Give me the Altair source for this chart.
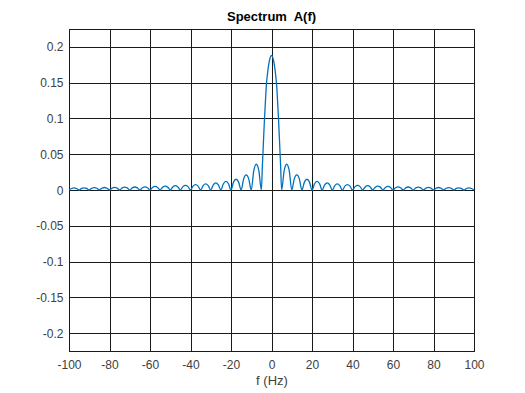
import altair as alt
import pandas as pd

# Main lobe (positive half)
main_f = [0, 1, 2, 2.5, 3, 3.5, 4, 4.5, 5]
main_a = [0.188, 0.181, 0.162, 0.148, 0.124, 0.097, 0.066, 0.034, 0.0]

# Side lobes between zeros at 5k and 5(k+1) Hz: peak and shoulder heights (read)
lobe_peak = [0.036, 0.021, 0.015, 0.012, 0.010, 0.0085, 0.0075, 0.0065, 0.006,
             0.0055, 0.005, 0.0045, 0.0042, 0.004, 0.0037, 0.0035, 0.0033, 0.0031, 0.003]
lobe_shoulder = [0.027, 0.0155, 0.011, 0.0087, 0.0072, 0.0061, 0.0054, 0.0047, 0.0043,
                 0.004, 0.0036, 0.0032, 0.003, 0.0029, 0.0027, 0.0025, 0.0024, 0.0022, 0.0021]

x_ticks = [-100, -80, -60, -40, -20, 0, 20, 40, 60, 80, 100]
y_ticks = [-0.2, -0.15, -0.1, -0.05, 0, 0.05, 0.1, 0.15, 0.2]

# Build the positive half of the curve
pos_f = list(main_f)
pos_a = list(main_a)
for k, (pk, sh) in enumerate(zip(lobe_peak, lobe_shoulder)):
    z = 5 * (k + 1)
    pos_f += [z + 1.25, z + 2.5, z + 3.75, z + 5]
    pos_a += [sh, pk, sh, 0.0]

f_all = [-v for v in reversed(pos_f[1:])] + pos_f
a_all = list(reversed(pos_a[1:])) + pos_a
df = pd.DataFrame({"f": f_all, "A": a_all})

label_expr = "datum.value < 0 ? '-' + format(-datum.value, '~g') : format(datum.value, '~g')"

chart = alt.Chart(df).mark_line(
    color="#0072BD", strokeWidth=1.3, interpolate="monotone", clip=True
).encode(
    x=alt.X("f:Q", scale=alt.Scale(domain=[-100, 100], nice=False, zero=False),
            axis=alt.Axis(values=x_ticks, title="f (Hz)", labelExpr=label_expr,
                          tickSize=0, labelPadding=8, titlePadding=4,
                          labelFontSize=12, titleFontSize=13, labelFlush=False)),
    y=alt.Y("A:Q", scale=alt.Scale(domain=[-0.225, 0.225], nice=False, zero=False),
            axis=alt.Axis(values=y_ticks, title=None, labelExpr=label_expr,
                          tickSize=0, labelPadding=6, labelFontSize=12)),
).properties(
    width=405, height=322,
    title=alt.TitleParams("Spectrum\u00a0 A(f)", fontSize=13, fontWeight="bold",
                          font="Liberation Sans", color="#000000", offset=5),
    autosize=alt.AutoSizeParams(type="none"),
    padding={"left": 61, "top": 21, "right": 43, "bottom": 40},
    background="white",
).configure_axis(
    grid=True, gridColor="#1a1a1a", gridOpacity=1, gridWidth=1,
    domainColor="#1a1a1a", domainWidth=1,
    labelColor="#404040", titleColor="#404040",
    labelFont="Liberation Sans", titleFont="Liberation Sans", titleFontWeight="normal",
).configure_view(stroke="#1a1a1a", strokeWidth=1)

chart.save("out.html", embed_options={"renderer": "svg", "actions": False})
